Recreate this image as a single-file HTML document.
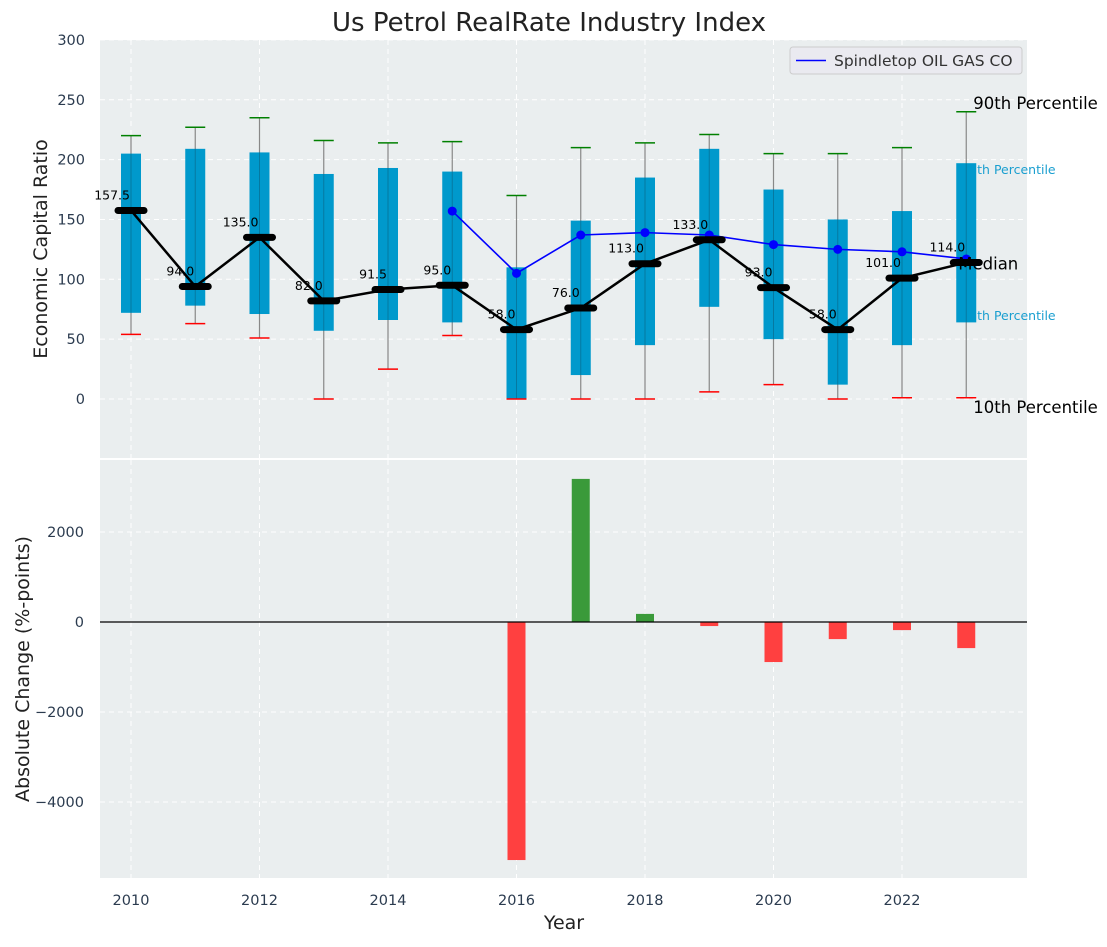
<!DOCTYPE html>
<html><head><meta charset="utf-8"><style>
body{margin:0;background:#fff;}
svg text{font-family:"DejaVu Sans","Liberation Sans",sans-serif;}
</style></head><body>
<svg id="chart" width="1107" height="942" xmlns="http://www.w3.org/2000/svg"></svg>
<script>
const years=[2010,2011,2012,2013,2014,2015,2016,2017,2018,2019,2020,2021,2022,2023];
const p90=[220,227,235,216,214,215,170,210,214,221,205,205,210,240];
const p75=[205,209,206,188,193,190,110,149,185,209,175,150,157,197];
const p25=[72,78,71,57,66,64,0,20,45,77,50,12,45,64];
const p10=[54,63,51,0,25,53,0,0,0,6,12,0,1,1];
const medians=[157.5,94,135,82,91.5,95,58,76,113,133,93,58,101,114];
const compYears=[2015,2016,2017,2018,2019,2020,2021,2022,2023];
const compVals=[157,105,137,139,137,129,125,123,117];
const changeYears=[2016,2017,2018,2019,2020,2021,2022,2023];
const changeVals=[-5290,3180,180,-90,-890,-380,-180,-580];
const yTicksTop=[0,50,100,150,200,250,300];
const yTicksBot=[-4000,-2000,0,2000];
const xTicks=[2010,2012,2014,2016,2018,2020,2022];

const svg=document.getElementById('chart');
const NS='http://www.w3.org/2000/svg';
function mk(tag,attrs,parent){const e=document.createElementNS(NS,tag);for(const k in attrs)e.setAttribute(k,attrs[k]);(parent||svg).appendChild(e);return e;}
const L=100,R=1027;
const x=v=>131+(v-2010)*64.25;
const yT=v=>399-v*1.197;
const yB=v=>622-v*0.045;
const TOP0=40,TOP1=458,BOT0=460,BOT1=878;
let e;
e=mk('rect',{x:L,y:TOP0,width:R-L,height:TOP1-TOP0,fill:'#eaeeef'});


e=mk('rect',{x:L,y:BOT0,width:R-L,height:BOT1-BOT0,fill:'#eaeeef'});


xTicks.forEach(t=>{
 mk('line',{x1:x(t),x2:x(t),y1:TOP0,y2:TOP1,stroke:'#fff','stroke-dasharray':'5,4','stroke-width':1});
 mk('line',{x1:x(t),x2:x(t),y1:BOT0,y2:BOT1,stroke:'#fff','stroke-dasharray':'5,4','stroke-width':1});
 e=mk('text',{x:x(t),y:905,'text-anchor':'middle','font-size':14.5,fill:'#2b3b4f'});e.textContent=t;
 
 
});
yTicksTop.forEach(t=>{
 mk('line',{x1:L,x2:R,y1:yT(t),y2:yT(t),stroke:'#fff','stroke-dasharray':'5,4','stroke-width':1});
 e=mk('text',{x:85,y:yT(t)+5,'text-anchor':'end','font-size':14.5,fill:'#2b3b4f'});e.textContent=t;
 
 
});
yTicksBot.forEach(t=>{
 mk('line',{x1:L,x2:R,y1:yB(t),y2:yB(t),stroke:'#fff','stroke-dasharray':'5,4','stroke-width':1});
 e=mk('text',{x:84,y:yB(t)+5,'text-anchor':'end','font-size':14.5,fill:'#2b3b4f'});e.textContent=(t<0?'\u2212'+(-t):t);
 
 
});
const lx=x(2023);
[['75th Percentile',174],['25th Percentile',320]].forEach(a=>{
 e=mk('text',{x:lx-5,y:a[1],'font-size':12.5,fill:'#1a9fd0'});e.textContent=a[0];
 
 
});
years.forEach((yr,i)=>{
 const cx=x(yr);
 mk('line',{x1:cx,x2:cx,y1:yT(p90[i]),y2:yT(p10[i]),stroke:'#888','stroke-width':1.2});
 e=mk('rect',{x:cx-10,y:yT(p75[i]),width:20,height:yT(p25[i])-yT(p75[i]),fill:'#0099cc'});
 
 
 mk('line',{x1:cx,x2:cx,y1:yT(p75[i]),y2:yT(p25[i]),stroke:'#0a5a77','stroke-width':1,opacity:0.5});
 e=mk('line',{x1:cx-10,x2:cx+10,y1:yT(p90[i]),y2:yT(p90[i]),stroke:'green','stroke-width':1.5});
 
 
 e=mk('line',{x1:cx-10,x2:cx+10,y1:yT(p10[i]),y2:yT(p10[i]),stroke:'red','stroke-width':1.5});
 
 
});
e=mk('polyline',{points:compYears.map((y,i)=>x(y)+','+yT(compVals[i])).join(' '),fill:'none',stroke:'blue','stroke-width':1.6});


compYears.forEach((y,i)=>{e=mk('circle',{cx:x(y),cy:yT(compVals[i]),r:4.5,fill:'blue'});
 
 });
e=mk('polyline',{points:years.map((y,i)=>x(y)+','+yT(medians[i])).join(' '),fill:'none',stroke:'#000','stroke-width':2.5});


years.forEach((yr,i)=>{
 const cx=x(yr),cy=yT(medians[i]);
 e=mk('line',{x1:cx-13,x2:cx+13,y1:cy,y2:cy,stroke:'#000','stroke-width':7,'stroke-linecap':'round'});
 
 
 e=mk('text',{x:cx-1,y:cy-11,'text-anchor':'end','font-size':12.5,fill:'#000'});e.textContent=medians[i].toFixed(1);
 
 
});
[['90th Percentile',lx+7,109],['Median',lx-8,yT(medians[13])+7],['10th Percentile',lx+7,413]].forEach(a=>{
 e=mk('text',{x:a[1],y:a[2],'font-size':16.5,fill:'#000'});e.textContent=a[0];
 
 
});
e=mk('g',{});
mk('rect',{x:790,y:47,width:232,height:27,rx:3,fill:'#eaeaf0',stroke:'#ccc'},e);
mk('line',{x1:796,x2:826,y1:60.5,y2:60.5,stroke:'blue','stroke-width':1.6},e);
let t=mk('text',{x:834,y:66,'font-size':15.5,fill:'#333'},e);t.textContent='Spindletop OIL GAS CO';
changeYears.forEach((yr,i)=>{
 const v=changeVals[i];const y0=yB(0),y1=yB(v);
 e=mk('rect',{x:x(yr)-9,y:Math.min(y0,y1),width:18,height:Math.abs(y1-y0),fill:v>=0?'#3a9a3a':'#ff4040'});
 
 
});
mk('line',{x1:L,x2:R,y1:yB(0),y2:yB(0),stroke:'#000','stroke-width':1.2});
e=mk('text',{x:549,y:31,'text-anchor':'middle','font-size':26,fill:'#222'});e.textContent='Us Petrol RealRate Industry Index';

e=mk('text',{x:0,y:0,'text-anchor':'middle','font-size':19,fill:'#222',transform:'translate(47,249) rotate(-90)'});e.textContent='Economic Capital Ratio';

e=mk('text',{x:0,y:0,'text-anchor':'middle','font-size':19,fill:'#222',transform:'translate(29,669) rotate(-90)'});e.textContent='Absolute Change (%-points)';

e=mk('text',{x:564,y:929,'text-anchor':'middle','font-size':19,fill:'#222'});e.textContent='Year';

</script>
</body></html>
